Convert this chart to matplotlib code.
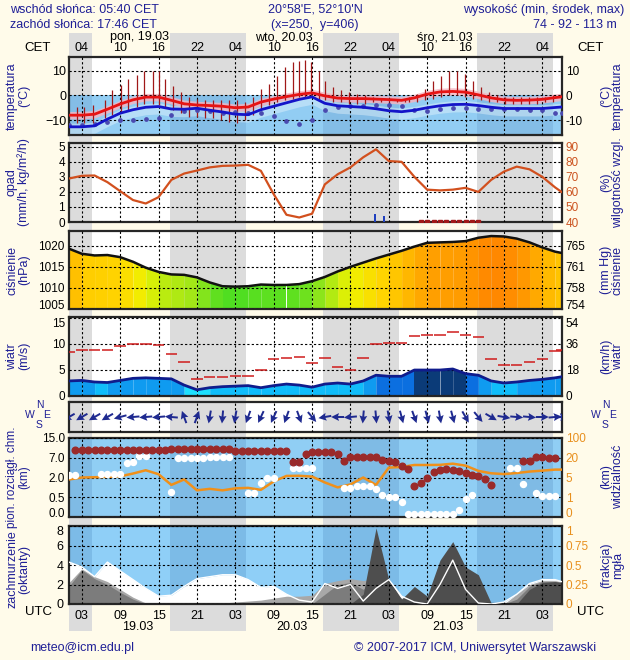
import numpy as np
import matplotlib.pyplot as plt
from matplotlib.colors import LinearSegmentedColormap

plt.rcParams['font.family'] = ['Liberation Sans', 'DejaVu Sans']

# ---- dane (godziny od 19.03 00 UTC) ----
hours = list(range(1, 78, 2)) + [78]

temp = [-8, -8, -7.6, -5.6, -3.5, -1.8, -0.7, -0.7, -2.0, -3.4, -3.9, -4.1, -4.4, -5.0, -4.7,
        -2.7, -1.5, -0.5, 0.4, 1.0, -0.2, -1.1, -1.3, -1.3, -1.5, -1.7, -2.0, -1.0, 0.5, 1.4,
        1.6, 1.3, 0.2, -1.0, -1.8, -2.0, -1.9, -1.6, -0.9, -0.6]
dew = [-12.7, -12.7, -12.3, -9.6, -7.2, -5.8, -4.8, -4.5, -5.5, -5.6, -5.2, -6.0, -6.7, -7.6, -7.8,
       -5.8, -4.4, -3.0, -1.6, -0.6, -3.2, -4.2, -4.5, -4.8, -5.4, -6.2, -6.6, -6.0, -5.0, -4.2,
       -3.7, -3.6, -4.1, -4.8, -5.3, -5.3, -5.3, -5.3, -4.9, -4.7]
feel = [-12, -12, -11.5, -10.6, -10.1, -9.9, -9.7, -9.3, -8.0, -6.5, -6.0, -6.5, -7.2, -6.8, -7.0,
        -7.3, -8.5, -10.5, -11.5, -10.0, -5.8, -4.6, -4.3, -4.1, -3.8, -3.7, -4.4, -6.0, -6.5, -5.5,
        -5.2, -5.1, -5.6, -5.5, -5.4, -5.7, -6.0, -6.0, -7.0, -7.3]

bar_t = [2.2, 3.4, 4.7, 6.6, 7.8, 9.1, 10.3, 11.6, 12.8, 14.1, 15.0, 16.0, 17.2, 18.5, 19.7, 21.0,
         22.2, 23.5, 24.7, 26.0, 27.2, 28.5, 29.7, 31.0, 32.2, 33.5, 34.7, 36.0, 36.9, 37.9, 38.8,
         40.1, 41.0, 42.3, 43.5, 44.8, 46.0, 47.3, 48.5, 49.8, 51.0, 52.3, 53.5, 54.2, 55.4, 56.7,
         57.9, 59.2, 60.4, 61.7, 62.9, 64.2, 65.4, 66.7, 67.9, 69.2, 70.4, 71.7, 72.9, 74.2, 75.4, 76.7]
bar_top = [-4.7, -4.7, -4, -2, 2, 4, 6.7, 8.4, 10, 10, 9.7, 6.7, 3.6, 1.3, -0.7, -1.3, -1.7, -1.7,
           -2, -2, -2, -2.7, -0.7, 2.7, 4.7, 8, 11.3, 13.3, 14, 14.3, 13.3, 10, 6, 3.3, 2, 1.3, 0.7,
           0, -0.7, -1.3, -1.5, -1.8, -1.8, -0.7, 0.7, 2.7, 6, 8, 10, 9.7, 8.7, 6, 3.3, 1.3, 0,
           -0.7, -0.7, -0.7, -0.7, -0.7, -0.7, 0]
bar_bot = [-11.3, -11.3, -11.3, -9.3, -8, -7.3, -6, -4.7, -3.3, -3.3, -4, -4.7, -6, -7.3, -8.7, -8.7,
           -9.3, -9.3, -10, -10.7, -11.3, -10, -8, -6, -4, -2.7, -2, -1.3, -0.7, -0.7, -0.7, -1.3,
           -2, -2.7, -2.7, -3.3, -3.3, -3.3, -2.7, -2.7, -2.5, -2.5, -2.5, -2.7, -2.7, -2, -1.3,
           -0.7, 0, 0, -0.7, -1.3, -2, -2.7, -2.7, -3.3, -3.3, -3.3, -3.3, -3.3, -2.7, -2.7]

humid = [68.9, 70.7, 70.9, 66.5, 60.5, 54.6, 52.3, 56.5, 68, 72.2, 74.2, 76.3, 77.3, 77.5, 78, 74,
         58.5, 44.8, 43, 45.5, 65, 71.7, 76.3, 83, 88.3, 80.5, 80, 70, 61.5, 61, 61.5, 62.7, 60, 68,
         73.5, 76.8, 75, 70, 63, 60]
rain_t = [48.8, 50.3]
rain = [0.5, 0.4]
snow_t = [56, 57, 58, 59, 60, 61, 62, 63, 64, 65]

press = [1019.3, 1018.1, 1017.7, 1017.8, 1017.3, 1016.2, 1014.8, 1013.8, 1013.2, 1013.1, 1012.5,
         1011.3, 1010.4, 1010.3, 1010.4, 1010.8, 1010.7, 1010.7, 1010.9, 1011.6, 1012.6, 1013.9,
         1015, 1016, 1017, 1017.9, 1018.8, 1019.8, 1020.7, 1020.8, 1020.9, 1021.1, 1021.9, 1022.3,
         1022.2, 1021.7, 1020.8, 1019.6, 1018.6, 1018.3]

wind = [2.8, 2.9, 2.6, 2.5, 2.9, 3.3, 3.4, 3.3, 3.2, 2.0, 1.1, 1.5, 1.7, 1.8, 1.9, 1.5, 1.9, 2.2,
        2.0, 1.6, 2.2, 2.4, 2.2, 2.8, 3.9, 3.7, 3.7, 4.9, 4.9, 4.9, 5.1, 4.2, 3.9, 2.8, 2.4, 2.6,
        2.9, 3.1, 3.4, 3.6]
gust = [8.3, 8.7, 8.7, 8.8, 9.6, 10, 10, 9.7, 8.0, 6.5, 3.1, 3.6, 3.6, 3.8, 3.8, 5.0, 7.0, 7.3,
        7.5, 6.3, 7.2, 5.4, 5.0, 7.3, 10, 10.1, 10.1, 11.5, 11.7, 11.6, 12.3, 11.7, 11.3, 7.0, 5.8,
        5.8, 6.4, 7.0, 8.5, 8.8]
wdir = [60, 60, 60, 60, 75, 85, 85, 85, 95, 160, 200, 10, 5, 10, 20, 25, 25, 20, 340, 320, 80,
        90, 85, 5, 355, 350, 345, 340, 345, 350, 345, 330, 320, 300, 280, 275, 275, 270, 265, 265]

red_t = list(range(2, 68)) + [72, 73, 74, 75, 76, 77]
red_km = [10.0] * 15 + [10.4] * 10 + [9.6] * 9 + [5.9, 5.8, 8.5, 9.4, 9.4, 9.4, 9.4, 8.6, 6.3,
          7.3, 7.3, 7.3, 7.3, 7.3, 6.5, 6.2, 5.8, 5.0, 4.2, 1.35, 1.6, 1.95, 3.5, 4.0, 4.2, 4.0,
          3.7, 3.1, 2.7, 2.4, 1.9, 1.4] + [6.1, 6.1, 7.3, 7.2, 7.1, 7.0]
white_t = [1, 2, 6, 7, 8, 9, 10, 11, 12, 13, 17, 18, 19, 20, 21, 22, 23, 24, 25, 26, 29, 30, 31,
           32, 33, 36, 37, 38, 39, 44, 45, 46, 47, 48, 49, 50, 51, 52, 53, 54, 55, 56, 57, 58, 59,
           60, 61, 62, 63, 64, 70, 71, 72, 74, 75, 76, 77]
white_km = [2.6, 2.6, 2.9, 2.9, 2.9, 2.9, 5.6, 5.8, 7.6, 7.6, 0.9, 7.0, 7.0, 7.0, 7.0, 7.0, 7.3,
            7.3, 7.3, 7.3, 0.85, 0.85, 1.6, 1.95, 1.95, 4.4, 4.4, 4.4, 4.4, 1.2, 1.2, 1.35, 1.35,
            1.35, 1.1, 0.7, 0.5, 0.5, 0.37, 0.07, 0.07, 0.07, 0.07, 0.07, 0.07, 0.07, 0.07, 0.17,
            0.45, 0.7, 4.4, 4.4, 1.5, 0.85, 0.6, 0.6, 0.6]
vis = [4.6, 5.0, 5.2, 5.5, 5.9, 8, 10.5, 7.5, 3.5, 4.6, 2.4, 2.7, 2.4, 2.8, 2.9, 2.5, 4.2, 6.2,
       6.3, 5.7, 4.0, 3.0, 3.6, 5.0, 3.5, 12.5, 13, 14.5, 14.5, 14.6, 15.5, 14, 10, 8.2, 7.6, 8.4,
       9.5, 10.2, 11, 11]

fog = [4.3, 3.8, 2.8, 4.3, 3.4, 2.5, 1.6, 0.8, 0.9, 1.8, 2.6, 2.8, 3.0, 3.0, 2.5, 1.7, 1.8, 1.0,
       0.4, 0.2, 2.1, 1.6, 2.0, 0.3, 1.6, 2.5, 0.8, 0.2, 0.0, 2.0, 4.5, 1.5, 0.1, 0.0, 0.2, 1.0,
       2.1, 2.5, 2.5, 2.3]
cl_high = [2.2, 3.6, 2.8, 2.3, 1.5, 0.7, 0.1, 0, 0, 0, 0, 0, 0.1, 0.2, 0.3, 0.4, 0.6, 0.8, 0.8,
           0.9, 2.1, 2.4, 2.6, 2.4, 2.6, 1.6, 0.6, 0.5, 0.6, 0.7, 0.6, 0.5, 0.3, 0, 0, 1.0, 2.0,
           2.4, 2.4, 2.3]
cl_mid = [1.8, 3.5, 2.6, 2.0, 1.2, 0.5, 0, 0, 0, 0, 0, 0, 0, 0, 0, 0, 0, 0, 0, 0, 1.0, 2.0, 2.2,
          1.5, 2.5, 1.5, 0.5, 0.4, 0, 0, 0, 0, 0, 0, 0, 0.5, 1.8, 2.3, 2.3, 2.2]
cl_low = [0] * 23 + [1.0, 7.8, 2.5, 0.5, 1.8, 0.8, 4.5, 6.4, 3.8, 3.0, 0.1, 0, 0, 1.5, 2.2, 2.3, 2.2]

cet_labels = ['04', '10', '16', '22'] * 3 + ['04']
utc_labels = ['03', '09', '15', '21'] * 3 + ['03']

# ---- uklad ----
W, H = 630, 660
X0, X1 = 69, 561.5
T0, T1 = 1, 78
BG = '#fffbea'
NIGHT = '#dcdcdc'
NAVY = '#1f1f96'
ORANGE = '#e8901e'
TFS = 8.5
grid_h = list(range(3, 78, 6))
nights = [(-8, 4.67), (16.77, 28.67), (40.77, 52.67), (64.77, 76.67)]

fig = plt.figure(figsize=(W / 100, H / 100), dpi=100, facecolor=BG)


def fx(x):
    return x / W


def fy(y):
    return 1 - y / H


def panel(y0, y1, face='white', night=NIGHT):
    ax = fig.add_axes([fx(X0), fy(y1), (X1 - X0) / W, (y1 - y0) / H])
    ax.set_xlim(T0, T1)
    ax.set_facecolor(face)
    for a, b in nights:
        ax.axvspan(a, b, color=night, lw=0, zorder=0)
    for s in ax.spines.values():
        s.set_color('#262626')
        s.set_linewidth(1.6)
    ax.set_xticks(grid_h)
    ax.tick_params(length=0, labelbottom=False, labelsize=TFS, pad=3)
    ax.set_axisbelow(False)
    ax.grid(True, color='black', linestyle=(0, (2, 2)), linewidth=0.8)
    return ax


def right(ax, ticks, labels, color='black'):
    r = ax.twinx()
    r.set_ylim(ax.get_ylim())
    r.set_yticks(ticks)
    r.set_yticklabels(labels, color=color)
    r.tick_params(length=0, labelsize=TFS, pad=3)
    for s in r.spines.values():
        s.set_visible(False)
    return r


def edge_labels(ax, bottom=False, top=False):
    # skrajne etykiety lekko do srodka, zeby nie wchodzily na sasiedni panel
    fig.canvas.draw()
    labs = ax.get_yticklabels()
    if bottom:
        labs[0].set_va('baseline')
    if top:
        labs[-1].set_va('top')


def side(y0, y1, left, rightlab):
    yc = fy((y0 + y1) / 2)
    fig.text(fx(18), yc, left, rotation=90, ha='center', va='center', color=NAVY,
             fontsize=9, linespacing=0.95)
    fig.text(fx(612), yc, rightlab, rotation=90, ha='center', va='center', color=NAVY,
             fontsize=9, linespacing=0.95)


# pasy nocy w tle (naglowek, przerwy miedzy panelami, stopka)
bg = fig.add_axes([fx(X0), fy(631), (X1 - X0) / W, (631 - 33) / H])
bg.set_xlim(T0, T1)
bg.axis('off')
for a, b in nights:
    bg.axvspan(a, b, color=NIGHT, lw=0)

# --- temperatura ---
ax = panel(57, 135)
ax.set_ylim(-16, 15.5)
ax.axhspan(-16, 0, color='#92cdf3', lw=0, zorder=0.5)
for a, b in nights:
    ax.fill_between([a, b], -16, 0, color='#84bde6', lw=0, zorder=0.6)
ax.fill_between(hours, np.array(dew) - 3, np.array(dew) + 1.5, color='white', alpha=0.35, lw=0, zorder=1)
ax.fill_between(hours, np.array(temp) - 1.5, np.array(temp) + 1.5, color='#f7b4c0', alpha=0.8, lw=0, zorder=1)
ax.vlines(bar_t, bar_bot, bar_top, color='#a01818', lw=0.9, zorder=3)
ax.plot(hours, feel, ls='none', marker='o', ms=2.4, color='#4a4ab0', zorder=3)
ax.plot(hours, dew, color='#1414c8', lw=2, zorder=4)
ax.plot(hours, temp, color='#e61414', lw=2, zorder=4)
ax.set_yticks([-10, 0, 10])
ax.set_xticklabels(cet_labels)
ax.tick_params(labeltop=True, pad=2, labelsize=9)
right(ax, [-10, 0, 10], ['-10', '0', '10'])
side(57, 135, 'temperatura\n(°C)', '(°C)\ntemperatura')

# --- opad / wilgotnosc ---
ax = panel(143, 222)
ax.set_ylim(0, 5.25)
ax.plot(hours, (np.array(humid) - 40) / 10, color='#d2501e', lw=1.6, zorder=4)
ax.bar(rain_t, rain, width=0.35, color='#1f3fbf', zorder=4)
ax.plot(snow_t, [0.03] * len(snow_t), ls='none', marker='s', ms=2.5, color='#a01818', zorder=5)
ax.set_yticks(range(6))
right(ax, range(6), ['40', '50', '60', '70', '80', '90'], color='#cc5522')
side(143, 222, 'opad\n(mm/h, kg/m²/h)', '(%)\nwilgotność wzgl.')

# --- cisnienie ---
ax = panel(231, 309)
ax.set_ylim(1005, 1023.5)
pcmap = LinearSegmentedColormap.from_list('p', [(0, '#44dd22'), (0.2, '#99e61a'), (0.4, '#eef200'),
                                               (0.58, '#ffd800'), (0.78, '#ffb000'), (1, '#ff8400')])
for i in range(len(hours) - 1):
    pm = (press[i] + press[i + 1]) / 2
    ax.fill_between(hours[i:i + 2], 1005, press[i:i + 2], color=pcmap((pm - 1010) / 12.5), lw=0, zorder=1)
ax.plot(hours, press, color='#111111', lw=1.8, zorder=4)
ax.set_yticks([1005, 1010, 1015, 1020])
r = right(ax, [1005, 1010, 1015, 1020], ['754', '758', '761', '765'])
edge_labels(ax, bottom=True)
edge_labels(r, bottom=True)
side(231, 309, 'ciśnienie\n(hPa)', '(mm Hg)\nciśnienie')

# --- wiatr ---
ax = panel(317, 395.5)
ax.set_ylim(0, 15.1)


def wcol(v):
    if v < 1.6:
        return '#1ee0ff'
    if v < 2.6:
        return '#10bdfa'
    if v < 3.6:
        return '#0f9bf0'
    if v < 4.6:
        return '#0b6fe0'
    if v < 5.05:
        return '#0b3b78'
    return '#0a8a0a'


for i in range(len(hours) - 1):
    ax.fill_between(hours[i:i + 2], 0, wind[i:i + 2], color=wcol((wind[i] + wind[i + 1]) / 2), lw=0, zorder=1)
ax.plot(hours, wind, color='#101c8c', lw=2, zorder=4)
ax.hlines(gust, np.array(hours) - 0.9, np.array(hours) + 0.9, color='#d01c1c', lw=1.1, zorder=4)
ax.set_yticks([0, 5, 10, 15])
r = right(ax, [0, 5, 10, 15], ['0', '18', '36', '54'])
edge_labels(ax, top=True)
edge_labels(r, top=True)
side(317, 395.5, 'wiatr\n(m/s)', '(km/h)\nwiatr')

# --- kierunek wiatru ---
ax = panel(402, 432)
ax.set_ylim(-1, 1)
ax.set_yticks([])
ax.grid(False, axis='y')
rad = np.radians(wdir)
ax.quiver(hours, [0] * len(hours), -np.sin(rad), -np.cos(rad), angles='uv', scale_units='inches',
          scale=1 / 0.13, pivot='middle', color='#1f2a90', width=0.004, headwidth=4, headlength=4,
          headaxislength=3.5, zorder=5)
for x0 in (30, 596):
    fig.text(fx(x0 + 10), fy(405), 'N', color=NAVY, fontsize=7.5, ha='center', va='center')
    fig.text(fx(x0), fy(414.5), 'W', color=NAVY, fontsize=7.5, ha='center', va='center')
    fig.text(fx(x0 + 17), fy(415.5), 'E', color=NAVY, fontsize=7.5, ha='center', va='center')
    fig.text(fx(x0 + 9), fy(425), 'S', color=NAVY, fontsize=7.5, ha='center', va='center')

# --- podstawa chmur / widzialnosc ---
ax = panel(438, 517, face='#90cef4', night='#7fbbe5')
ax.set_ylim(0, 4)
kmpos = lambda v: np.interp(v, [0, 0.5, 2, 7, 15], [0, 1, 2, 3, 4])
vispos = lambda v: np.interp(v, [0, 1, 5, 20, 100], [0, 1, 2, 3, 4])
ax.plot(hours, vispos(vis), color='#f0901a', lw=1.8, zorder=3)
ax.plot(white_t, kmpos(white_km), ls='none', marker='o', ms=4.3, color='white', zorder=4)
ax.plot(red_t, kmpos(red_km), ls='none', marker='o', ms=4.8, color='#9a2a2a', zorder=5)
ax.set_yticks(range(5))
ax.set_yticklabels(['0.0', '0.5', '2.0', '7.0', '15.0'])
r = right(ax, range(5), ['0', '1', '5', '20', '100'], color=ORANGE)
edge_labels(ax, bottom=True)
edge_labels(r, bottom=True)
fig.text(fx(18), fy(477), 'pion. rozciągł. chm.\n(km)', rotation=90, ha='center', va='center',
         color=NAVY, fontsize=8.5, linespacing=0.95)
fig.text(fx(612), fy(477), '(km)\nwidzialność', rotation=90, ha='center', va='center',
         color=NAVY, fontsize=9, linespacing=0.95)

# --- zachmurzenie / mgla ---
ax = panel(526, 604, face='#8fcff7', night='#7cbbe7')
ax.set_ylim(0, 8)
ax.fill_between(hours, 0, fog, color='white', lw=0, zorder=1)
ax.fill_between(hours, 0, cl_high, color='#a8a8a8', lw=0, zorder=1.1)
ax.fill_between(hours, 0, cl_mid, color='#7c7c7c', lw=0, zorder=1.2)
ax.fill_between(hours, 0, cl_low, color='#4e4e4e', lw=0, zorder=1.3)
ax.plot(hours, fog, color='white', lw=1, zorder=3)
ax.set_yticks([0, 2, 4, 6, 8])
ax.set_xticklabels(utc_labels)
ax.tick_params(labelbottom=True, pad=4, labelsize=9)
r = right(ax, [0, 2, 4, 6, 8], ['0', '0.25', '0.5', '0.75', '1'], color=ORANGE)
edge_labels(ax, top=True)
edge_labels(r, top=True)
fig.text(fx(18), fy(569), 'zachmurzenie\n(oktanty)', rotation=90, ha='center', va='center',
         color=NAVY, fontsize=9, linespacing=0.95)
fig.text(fx(612), fy(565), '(frakcja)\nmgła', rotation=90, ha='center', va='center',
         color=NAVY, fontsize=9, linespacing=0.95)

# ---- teksty ----
fs = 9
fig.text(fx(10), fy(10), 'wschód słońca: 05:40 CET', color=NAVY, fontsize=fs, va='center')
fig.text(fx(10), fy(25), 'zachód słońca: 17:46 CET', color=NAVY, fontsize=fs, va='center')
fig.text(fx(315), fy(10), "20°58'E, 52°10'N", color=NAVY, fontsize=fs, ha='center', va='center')
fig.text(fx(315), fy(25), '(x=250,  y=406)', color=NAVY, fontsize=fs, ha='center', va='center')
fig.text(fx(624), fy(10), 'wysokość (min, środek, max)', color=NAVY, fontsize=fs, ha='right', va='center')
fig.text(fx(575), fy(25), '74 - 92 - 113 m', color=NAVY, fontsize=fs, ha='center', va='center')
for x, d in [(139, 'pon, 19.03'), (284, 'wto, 20.03'), (445, 'śro, 21.03')]:
    fig.text(fx(x), fy(37), d, fontsize=fs, ha='center', va='center')
fig.text(fx(38), fy(48), 'CET', fontsize=9.5, ha='center', va='center')
fig.text(fx(591), fy(48), 'CET', fontsize=9.5, ha='center', va='center')
fig.text(fx(38), fy(612), 'UTC', fontsize=9.5, ha='center', va='center')
fig.text(fx(591), fy(612), 'UTC', fontsize=9.5, ha='center', va='center')
for x, d in [(138, '19.03'), (292, '20.03'), (448, '21.03')]:
    fig.text(fx(x), fy(627), d, fontsize=fs, ha='center', va='center')
fig.text(fx(30), fy(648), 'meteo@icm.edu.pl', color=NAVY, fontsize=fs, va='center')
fig.text(fx(596), fy(648), '© 2007-2017 ICM, Uniwersytet Warszawski', color=NAVY, fontsize=fs,
         ha='right', va='center')

fig.savefig('out.png', dpi=100, facecolor=BG)
